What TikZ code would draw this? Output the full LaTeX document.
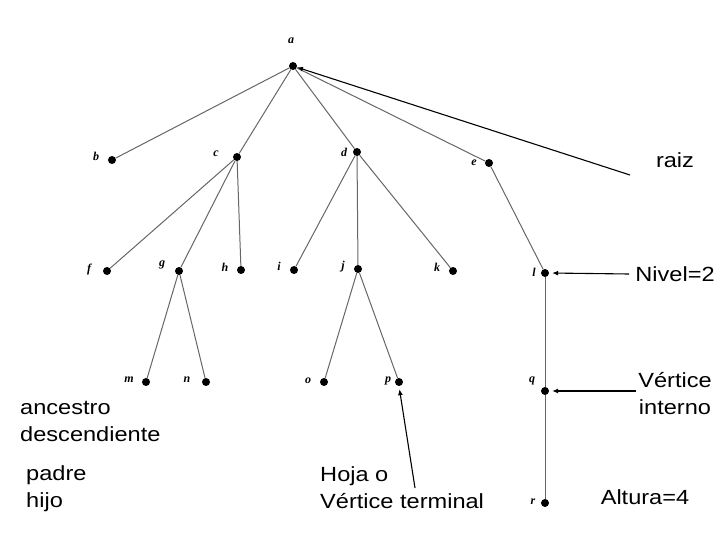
\documentclass[tikz,border=0pt]{standalone}
\usepackage{fontspec}
\newfontfamily\ann{Liberation Sans}
\newfontfamily\lab{Liberation Serif}
\usetikzlibrary{arrows.meta}
\begin{document}
\begin{tikzpicture}[x=1pt,y=-1pt,
  v/.style={circle,fill=black,inner sep=0pt,minimum size=8pt},
  lb/.style={font=\lab\bfseries\itshape\fontsize{12}{12}\selectfont,inner sep=0pt},
  ed/.style={draw=black!60,line width=1pt},
  an/.style={font=\ann\fontsize{20.5}{27}\selectfont,inner sep=0pt,xscale=1.15},
  ar/.style={-{Latex[length=6pt,width=5pt]},line width=1.1pt,shorten >=3pt}]
\useasboundingbox (0,0) rectangle (720,540);
\foreach \n/\x/\y/\lx/\ly in {a/293/66/291/41, b/112/160/96/156, c/237/157/216/154, d/357/152/344/152,
 e/489/163/474/163, f/107/271/89/270, g/179/271/162/265, h/241/270/225/267, i/294/270/279/266,
 j/358/269/343/267, k/453/271/437/267, l/545/273/534/272, m/146/382/129/380, n/206/382/187/380,
 o/324/382/308/381, p/399/382/388/381, q/545/391/532/381, r/545/503/533/502}{
  \node[v] (\n) at (\x,\y) {};
  \node[lb] (\n lab) at (\lx,\ly) {\n};
}
\foreach \s/\t in {a/b,a/c,a/d,a/e,c/f,c/g,c/h,d/i,d/j,d/k,e/l,g/m,g/n,j/o,j/p,l/q,q/r}
  \draw[ed] (\s) -- (\t);
\node[an] (raiz) at (675,160) {raiz};
\coordinate (raizend) at (630,175);
\draw[ar,shorten >=0pt] (raizend) -- (a);
\node[an] (nivel) at (675,274) {Nivel=2};
\coordinate (nv) at (629,274);
\draw[ar] (nv) -- (l.east);
\node[an,align=center] (vint) at (675,394) {Vértice\\interno};
\coordinate (vi) at (636,391);
\draw[ar] (vi) -- (q.east);
\node[an] (alt) at (645,497) {Altura=4};
\node[an,align=left,anchor=west] (hoja) at (320,488) {Hoja o\\Vértice terminal};
\coordinate (hj) at (415,488);
\draw[ar] (hj) -- (p.south);
\node[an,align=left,anchor=north west] (anc) at (20,401) {ancestro\\descendiente};
\node[an,align=left,anchor=north west] (pad) at (26,465) {padre\\hijo};
\end{tikzpicture}
\end{document}
